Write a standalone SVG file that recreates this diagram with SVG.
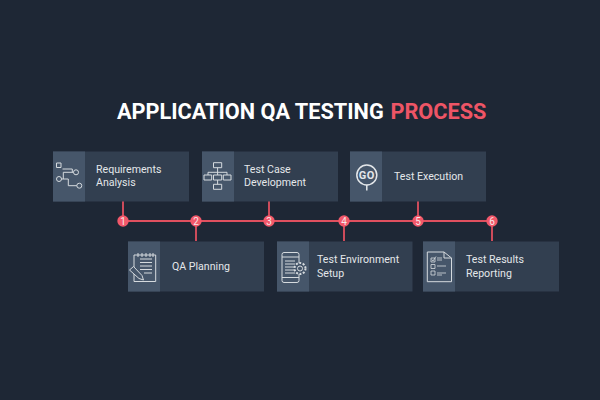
<svg xmlns="http://www.w3.org/2000/svg" width="600" height="400" viewBox="0 0 600 400">
<style>
.card{fill:#323f50}
.panel{fill:#46566a}
.lbl{font-family:Roboto,"Liberation Sans",sans-serif;font-size:10.6px;fill:#e4e7ea}
.num{font-family:Roboto,"Liberation Sans",sans-serif;font-size:10px;fill:#f8e6e8;text-anchor:middle}
.ttl{font-family:Roboto,"Liberation Sans",sans-serif;font-size:21.700px;font-weight:700;fill:#fff}
.ic{fill:none;stroke:#d5dade;stroke-width:1}
.th{fill:none;stroke:#d5dade;stroke-width:.8}
.ln{stroke:#e0505f;stroke-width:1.800;fill:none}
.dot{fill:#f2586a}
</style>
<rect width="600" height="400" fill="#1e2735"/>
<text class="ttl" x="117" y="118.500">APPLICATION QA TESTING</text>
<text class="ttl" x="390.500" y="118.500" style="fill:#ee5566">PROCESS</text>
<g id="connectors">
<path class="ln" d="M123 221H492M123 201V221M196 221V241M269 201V221M344 221V241M418 201V221M492 221V241"/>
</g>
<g id="node-1">
<rect class="card" x="53" y="151.500" width="136" height="50"/><rect class="panel" x="53" y="151.500" width="32" height="50"/>
<path class="ic" d="M56.500 163H61V167.500H56.500ZM62.500 169H72.300V172.300M73.500 172.300H63.300V179M61.500 179H68.300V185.700H76.800"/>
<circle class="ic" cx="76" cy="172.300" r="2.500"/><circle class="ic" cx="59" cy="179" r="2.500"/><circle class="ic" cx="79.300" cy="185.700" r="2.500"/>
<text class="lbl" x="96" y="172.500">Requirements</text><text class="lbl" x="96" y="186">Analysis</text>
</g>
<g id="node-2">
<rect class="card" x="128" y="241.500" width="136" height="50"/><rect class="panel" x="128" y="241.500" width="32" height="50"/>
<path class="ic" d="M134 255V281.500H155.700V255H134M138 253V257M142 253V257M146 253V257M150 253V257M153 253V257M140 259H152M140 262.500H152M140 266H152M140 269.500H152M144 273H152"/>
<path d="M129.500 270L133.500 266.500L142 275.500L143.500 280L139 278.500Z" fill="#46566a" stroke="#d5dade" stroke-width="1"/>
<text class="lbl" x="172" y="270">QA Planning</text>
</g>
<g id="node-3">
<rect class="card" x="202" y="151.500" width="136" height="50"/><rect class="panel" x="202" y="151.500" width="32" height="50"/>
<path class="ic" d="M213.500 162.700H221.700V167.700H213.500ZM204 175H211.700V180H204ZM213.500 175H221.700V180H213.500ZM223.300 175H231V180H223.300ZM213.500 184.300H221.700V189.300H213.500ZM217.600 167.700V175M217.600 180V184.300M208 175V172.300H227V175"/>
<text class="lbl" x="244" y="172.500">Test Case</text><text class="lbl" x="244" y="186">Development</text>
</g>
<g id="node-4">
<rect class="card" x="277" y="241.500" width="135.500" height="50"/><rect class="panel" x="277" y="241.500" width="32" height="50"/>
<rect class="ic" x="282" y="252.500" width="17" height="30" rx="2"/>
<path class="ic" d="M282 257H299M282 277.500H299M285 261H295M285 264H295M285 267H295M285 270H295M285 273H295"/>
<circle cx="300" cy="268.500" r="5.500" fill="#46566a" stroke="#d5dade" stroke-width="2" stroke-dasharray="2 1.500"/><circle class="ic" cx="300" cy="268.500" r="2.500"/>
<text class="lbl" x="317" y="263">Test Environment</text><text class="lbl" x="317" y="276.500">Setup</text>
</g>
<g id="node-5">
<rect class="card" x="350" y="151.500" width="136" height="50"/><rect class="panel" x="350" y="151.500" width="32" height="50"/>
<circle cx="366.800" cy="175" r="10" fill="none" stroke="#e4e7ea" stroke-width="1.500"/>
<path d="M366.800 185V190.500" stroke="#e4e7ea" stroke-width="1.500"/>
<text x="366.800" y="179" font-family="Roboto,'Liberation Sans',sans-serif" font-size="11" font-weight="700" letter-spacing=".6" fill="#e4e7ea" text-anchor="middle">GO</text>
<text class="lbl" x="394" y="180">Test Execution</text>
</g>
<g id="node-6">
<rect class="card" x="423" y="241.500" width="136" height="50"/><rect class="panel" x="423" y="241.500" width="32" height="50"/>
<path class="ic" d="M427.300 252H444L451.500 258V281.700H427.300ZM444 252V258H451.500"/>
<path class="th" d="M431 258H435V262H431ZM431 264.500H435V268.500H431ZM431 271H435V275H431ZM431.800 259.500L433 261L436 256.500M437 258H442M437 260H442M437 266H446M437 273H446M437 275H442"/>
<text class="lbl" x="466" y="263">Test Results</text><text class="lbl" x="466" y="276.500">Reporting</text>
</g>
<g id="markers">
<circle class="dot" cx="123" cy="221" r="5.700"/><text class="num" x="123" y="224.500">1</text>
<circle class="dot" cx="196" cy="221" r="5.700"/><text class="num" x="196" y="224.500">2</text>
<circle class="dot" cx="269" cy="221" r="5.700"/><text class="num" x="269" y="224.500">3</text>
<circle class="dot" cx="344" cy="221" r="5.700"/><text class="num" x="344" y="224.500">4</text>
<circle class="dot" cx="418" cy="221" r="5.700"/><text class="num" x="418" y="224.500">5</text>
<circle class="dot" cx="492" cy="221" r="5.700"/><text class="num" x="492" y="224.500">6</text>
</g>
</svg>
